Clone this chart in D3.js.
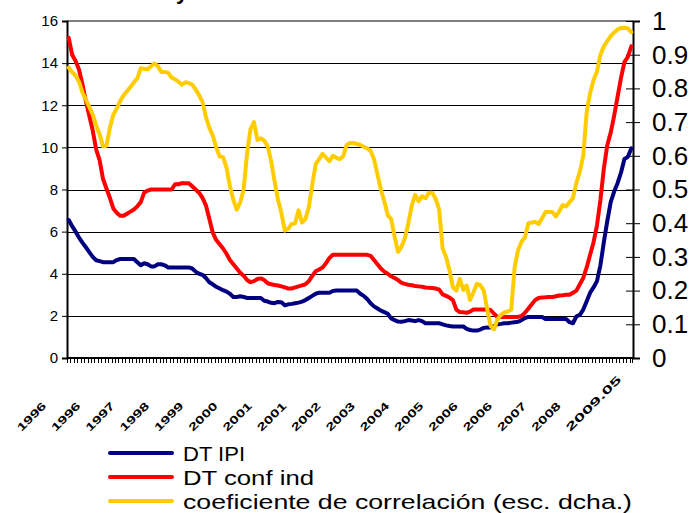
<!DOCTYPE html>
<html><head><meta charset="utf-8">
<script src="https://cdn.jsdelivr.net/npm/d3@7"></script>
<style>
html,body{margin:0;padding:0;background:#fff;}
svg{display:block;font-family:"Liberation Sans",Arial,sans-serif;}
</style></head>
<body>
<svg id="chart" width="693" height="513"></svg>
<script>
// Monthly categories 1995.09 .. 2009.05
const startYear = 1995, startMonth = 9, nMonths = 165;
const categories = [];
for (let k = 0; k < nMonths; k++) {
  const m = startMonth - 1 + k;
  const y = startYear + Math.floor(m / 12), mm = (m % 12) + 1;
  categories.push(y + "." + (mm < 10 ? "0" : "") + mm);
}
const xTickCats = ["1996.01","1996.11","1997.09","1998.07","1999.05","2000.03","2001.01","2001.11","2002.09","2003.07","2004.05","2005.03","2006.01","2006.11","2007.09","2008.07","2009.05"];
const xTickText = ["1996","1996","1997","1998","1999","2000","2001","2001","2002","2003","2004","2005","2006","2006","2007","2008","2009.05"];
const leftTicks = [0,2,4,6,8,10,12,14,16];
const rightTicks = [0,0.1,0.2,0.3,0.4,0.5,0.6,0.7,0.8,0.9,1];

const dtIPI = [
6.55,6.26,6.0,5.72,5.48,5.26,5.03,4.8,4.64,4.6,
4.55,4.55,4.55,4.55,4.65,4.7,4.7,4.7,4.7,4.7,
4.55,4.4,4.5,4.45,4.35,4.35,4.45,4.45,4.4,4.3,
4.3,4.3,4.3,4.3,4.3,4.3,4.25,4.1,4.0,3.95,
3.8,3.6,3.5,3.38,3.3,3.22,3.15,3.05,2.9,2.9,
2.93,2.9,2.85,2.85,2.85,2.85,2.85,2.72,2.68,2.62,
2.6,2.66,2.65,2.5,2.55,2.57,2.6,2.63,2.68,2.75,
2.85,2.95,3.05,3.1,3.1,3.1,3.1,3.18,3.2,3.2,
3.2,3.2,3.2,3.2,3.2,3.05,2.95,2.8,2.6,2.45,
2.35,2.25,2.18,2.1,1.88,1.8,1.73,1.72,1.75,1.8,
1.78,1.75,1.8,1.75,1.65,1.65,1.65,1.65,1.65,1.6,
1.55,1.52,1.5,1.5,1.5,1.5,1.38,1.33,1.3,1.3,
1.35,1.43,1.45,1.45,1.52,1.6,1.62,1.65,1.65,1.68,
1.7,1.72,1.8,1.9,1.95,1.95,1.95,1.95,1.95,1.85,
1.85,1.85,1.85,1.85,1.85,1.85,1.7,1.65,1.98,2.05,
2.3,2.7,3.1,3.35,3.65,4.4,5.5,6.5,7.4,7.9,
8.3,8.8,9.45,9.55,9.95];

const dtConf = [
15.2,14.4,14.1,13.7,13.0,12.2,11.5,10.8,9.9,9.4,
8.5,8.05,7.6,7.1,6.9,6.75,6.75,6.85,6.95,7.05,
7.2,7.4,7.85,7.95,8.0,8.0,8.0,8.0,8.0,8.0,
8.0,8.25,8.25,8.3,8.3,8.3,8.15,8.0,7.85,7.6,
7.25,6.6,5.95,5.6,5.4,5.2,4.95,4.65,4.45,4.25,
4.05,3.9,3.7,3.6,3.65,3.75,3.78,3.7,3.55,3.5,
3.47,3.44,3.4,3.35,3.3,3.3,3.35,3.4,3.45,3.5,
3.65,3.9,4.12,4.2,4.3,4.5,4.75,4.9,4.9,4.9,
4.9,4.9,4.9,4.9,4.9,4.9,4.9,4.9,4.85,4.65,
4.45,4.25,4.1,4.0,3.88,3.8,3.7,3.57,3.52,3.48,
3.45,3.42,3.4,3.38,3.35,3.33,3.32,3.3,3.25,3.02,
2.95,2.87,2.75,2.3,2.18,2.17,2.15,2.2,2.3,2.3,
2.3,2.3,2.3,2.28,2.1,1.95,1.95,1.95,1.95,1.95,
1.95,1.95,2.0,2.15,2.35,2.55,2.75,2.85,2.87,2.88,
2.9,2.9,2.93,2.97,2.98,3.0,3.0,3.1,3.2,3.5,
3.8,4.3,4.9,5.5,6.3,7.5,9.0,10.1,10.7,11.5,
12.4,13.3,14.05,14.3,14.8];

const correl = [
0.862,0.848,0.838,0.82,0.788,0.767,0.745,0.722,0.69,0.664,
0.628,0.63,0.683,0.722,0.74,0.762,0.78,0.792,0.804,0.818,
0.83,0.86,0.858,0.857,0.866,0.874,0.866,0.849,0.849,0.846,
0.832,0.827,0.82,0.811,0.818,0.816,0.811,0.797,0.78,0.76,
0.715,0.683,0.66,0.625,0.598,0.596,0.565,0.51,0.469,0.44,
0.462,0.5,0.608,0.68,0.7,0.647,0.652,0.645,0.628,0.585,
0.525,0.47,0.43,0.378,0.384,0.398,0.4,0.438,0.402,0.412,
0.448,0.515,0.575,0.59,0.606,0.595,0.584,0.6,0.594,0.59,
0.598,0.632,0.638,0.638,0.635,0.632,0.627,0.622,0.615,0.59,
0.545,0.5,0.465,0.424,0.412,0.36,0.315,0.33,0.355,0.4,
0.452,0.484,0.465,0.48,0.474,0.49,0.49,0.472,0.44,0.325,
0.3,0.26,0.21,0.2,0.235,0.202,0.215,0.172,0.195,0.22,
0.216,0.2,0.145,0.095,0.085,0.115,0.128,0.135,0.138,0.143,
0.27,0.32,0.345,0.358,0.4,0.402,0.404,0.397,0.415,0.433,
0.433,0.433,0.42,0.435,0.454,0.45,0.462,0.475,0.52,0.553,
0.6,0.73,0.786,0.825,0.85,0.9,0.925,0.94,0.955,0.966,
0.975,0.979,0.98,0.978,0.967];

const seriesNames = ["DT IPI","DT conf ind","coeficiente de correlación (esc. dcha.)"];
const seriesColors = ["#000080","#ff0000","#ffcc00"];
const titleText = "y coeficiente de correlación";

const svg = d3.select("#chart");
const L = 67, R = 633, T = 21, B = 358;
const x = d3.scaleBand().domain(categories).range([L, R]).paddingInner(0).paddingOuter(0);
const xc = c => x(c) + x.bandwidth() / 2;
const yL = d3.scaleLinear().domain([0, 16]).range([B, T]);
const yR = d3.scaleLinear().domain([0, 1]).range([B, T]);

// title (cut off at top, as in the reference)
svg.append("text").attr("x", 176).attr("y", -1)
  .attr("font-size", 22).attr("font-weight", "bold").attr("fill", "#000")
  .text(titleText);

// gridlines
svg.append("g").selectAll("line").data(leftTicks.filter(v => v > 0 && v < 16)).join("line")
  .attr("x1", L).attr("x2", R)
  .attr("y1", d => Math.round(yL(d)) + 0.5).attr("y2", d => Math.round(yL(d)) + 0.5)
  .attr("stroke", "#000").attr("stroke-width", 1);
svg.append("line").attr("x1", L).attr("x2", R).attr("y1", T).attr("y2", T)
  .attr("stroke", "#808080").attr("stroke-width", 2);

// left axis
const gL = svg.append("g").attr("transform", `translate(${L},0)`)
  .call(d3.axisLeft(yL).tickValues(leftTicks).tickSize(5).tickPadding(4).tickFormat(d3.format("d")));
gL.select(".domain").attr("stroke", "#000").attr("stroke-width", 2);
gL.selectAll(".tick line").attr("stroke", "#000");
gL.selectAll("text").attr("font-size", 15).attr("font-family", "Liberation Sans, Arial, sans-serif").attr("fill", "#000");

// right axis
const gR = svg.append("g").attr("transform", `translate(${R},0)`)
  .call(d3.axisRight(yR).tickValues(rightTicks).tickSize(7).tickPadding(12).tickFormat(d => d === 0 || d === 1 ? d3.format("d")(d) : d3.format(".1f")(d)));
gR.select(".domain").attr("stroke", "#000").attr("stroke-width", 2);
gR.selectAll(".tick line").attr("stroke", "#000").attr("x1", -7).attr("x2", 7);
gR.selectAll("text").attr("font-size", 26).attr("font-family", "Liberation Sans, Arial, sans-serif").attr("fill", "#000");

// bottom axis (category ticks at band boundaries)
const gB = svg.append("g").attr("transform", `translate(0,${B})`);
gB.append("line").attr("x1", L).attr("x2", R).attr("y1", 0).attr("y2", 0).attr("stroke", "#000").attr("stroke-width", 2);
gB.selectAll("line.t").data(categories.concat(["end"])).join("line").attr("class", "t")
  .attr("x1", (c, i) => i < categories.length ? Math.round(x(c)) + 0.5 : R - 0.5)
  .attr("x2", (c, i) => i < categories.length ? Math.round(x(c)) + 0.5 : R - 0.5)
  .attr("y1", 0).attr("y2", 5).attr("stroke", "#000").attr("stroke-width", 1);

// x labels, rotated
svg.append("g").selectAll("text").data(xTickCats).join("text")
  .attr("transform", d => `translate(${xc(d) - 61},432) rotate(-45)`)
  .attr("text-anchor", "start").attr("font-size", 11).attr("font-weight", "bold")
  .attr("textLength", (d, i) => xTickText[i].length > 4 ? 73 : 36)
  .attr("lengthAdjust", "spacingAndGlyphs")
  .attr("fill", "#000")
  .text((d, i) => xTickText[i]);

// lines
const lineL = d3.line().x((d, i) => xc(categories[i])).y(d => yL(d));
const lineR = d3.line().x((d, i) => xc(categories[i])).y(d => yR(d));
const plots = [[dtIPI, lineL], [dtConf, lineL], [correl, lineR]];
plots.forEach(([data, gen], k) => {
  svg.append("path").datum(data).attr("d", gen)
    .attr("fill", "none").attr("stroke", seriesColors[k]).attr("stroke-width", 4)
    .attr("stroke-linejoin", "round").attr("stroke-linecap", "round");
});

// legend
const legY = [453, 477, 501];
const legW = [62, 131, 449];
const lg = svg.append("g");
seriesNames.forEach((n, k) => {
  lg.append("line").attr("x1", 110).attr("x2", 172).attr("y1", legY[k]).attr("y2", legY[k])
    .attr("stroke", seriesColors[k]).attr("stroke-width", 4).attr("stroke-linecap", "round");
  lg.append("text").attr("x", 183).attr("y", legY[k] + 7.5)
    .attr("font-size", 21).attr("fill", "#000")
    .attr("textLength", legW[k]).attr("lengthAdjust", "spacingAndGlyphs")
    .text(n);
});
</script>
</body></html>
